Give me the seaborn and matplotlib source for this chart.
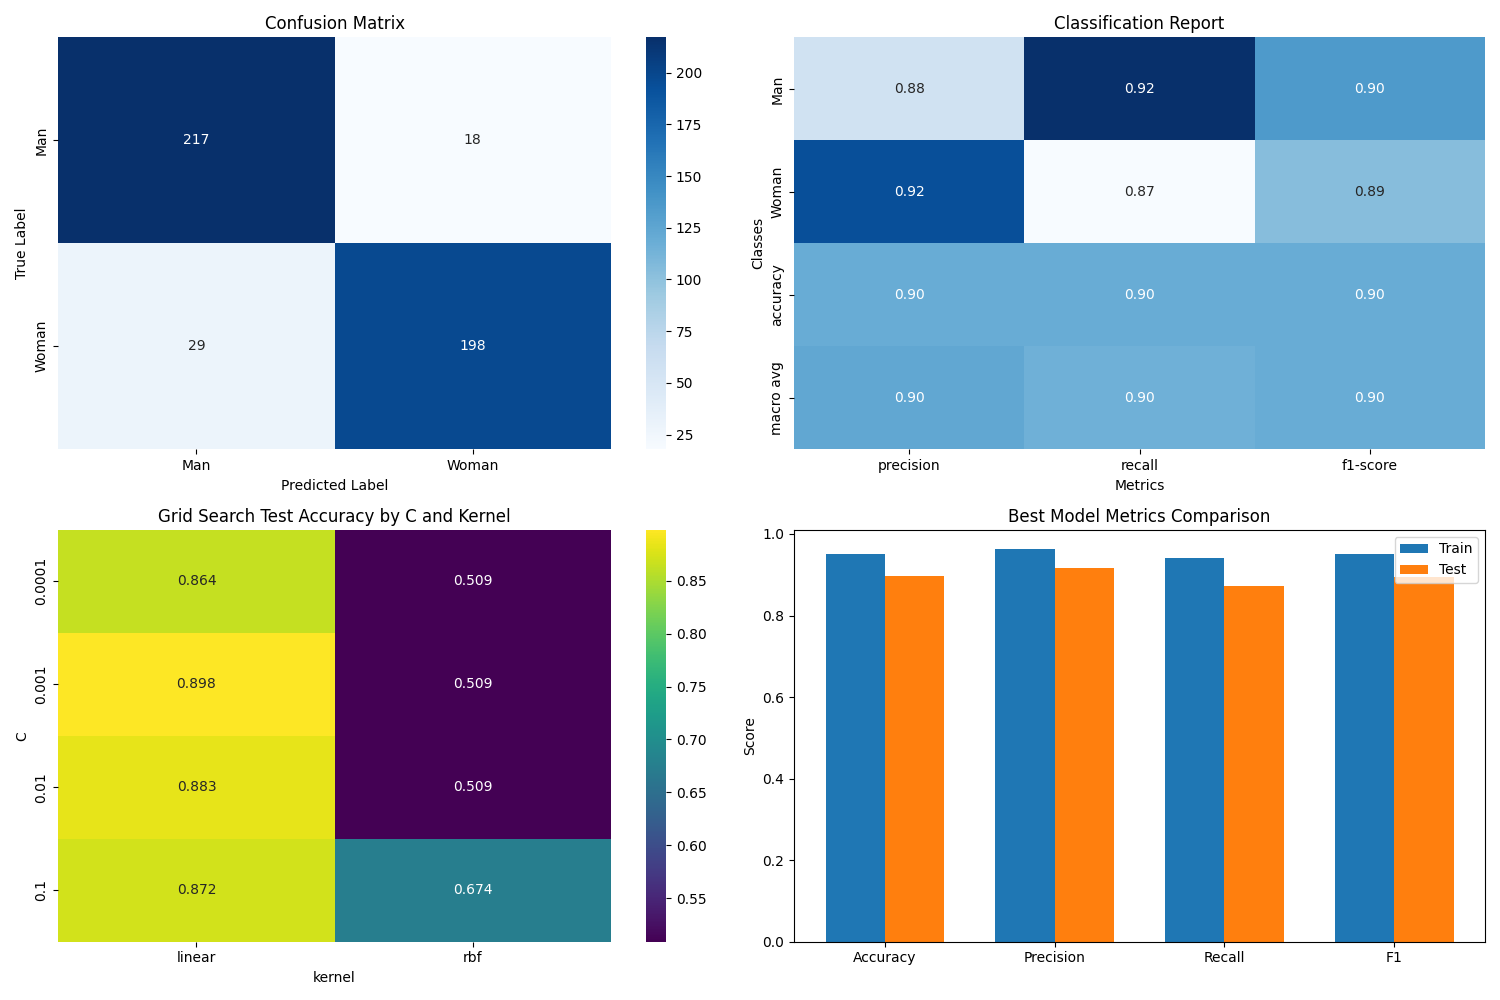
import numpy as np
import pandas as pd
import matplotlib
matplotlib.use("Agg")
import matplotlib.pyplot as plt
import seaborn as sns

classes = ["Man", "Woman"]
cm = [[217, 18], [29, 198]]

report_rows = ["Man", "Woman", "accuracy", "macro avg"]
report_cols = ["precision", "recall", "f1-score"]
report_vals = [[0.882, 0.923, 0.902],
               [0.917, 0.872, 0.894],
               [0.898, 0.898, 0.898],
               [0.899, 0.897, 0.898]]

C_vals = ["0.0001", "0.001", "0.01", "0.1"]
kernels = ["linear", "rbf"]
grid_acc = [[0.864, 0.509], [0.898, 0.509], [0.883, 0.509], [0.872, 0.674]]

metrics = ["Accuracy", "Precision", "Recall", "F1"]
train_scores = [0.952, 0.962, 0.940, 0.950]
test_scores = [0.898, 0.917, 0.872, 0.894]

fig, axes = plt.subplots(2, 2, figsize=(15, 10), dpi=100)

ax = axes[0, 0]
sns.heatmap(pd.DataFrame(cm, index=classes, columns=classes), annot=True, fmt="d",
            cmap="Blues", ax=ax)
ax.set_title("Confusion Matrix")
ax.set_xlabel("Predicted Label")
ax.set_ylabel("True Label")

ax = axes[0, 1]
sns.heatmap(pd.DataFrame(report_vals, index=report_rows, columns=report_cols),
            annot=True, fmt=".2f", cmap="Blues", cbar=False, ax=ax)
ax.set_title("Classification Report")
ax.set_xlabel("Metrics")
ax.set_ylabel("Classes")

ax = axes[1, 0]
sns.heatmap(pd.DataFrame(grid_acc, index=pd.Index(C_vals, name="C"),
                         columns=pd.Index(kernels, name="kernel")),
            annot=True, fmt=".3f", cmap="viridis", ax=ax)
ax.set_title("Grid Search Test Accuracy by C and Kernel")

ax = axes[1, 1]
df = pd.DataFrame({"Metric": metrics * 2,
                   "Score": train_scores + test_scores,
                   "Set": ["Train"] * 4 + ["Test"] * 4})
sns.barplot(data=df, x="Metric", y="Score", hue="Set",
            palette=["#1f77b4", "#ff7f0e"], width=0.7, saturation=1, ax=ax)
ax.set_xlim(-0.535, 3.535)
ax.set_title("Best Model Metrics Comparison")
ax.set_xlabel("")
ax.set_ylabel("Score")
ax.legend(loc="upper right")

plt.tight_layout()
plt.savefig("out.png")
